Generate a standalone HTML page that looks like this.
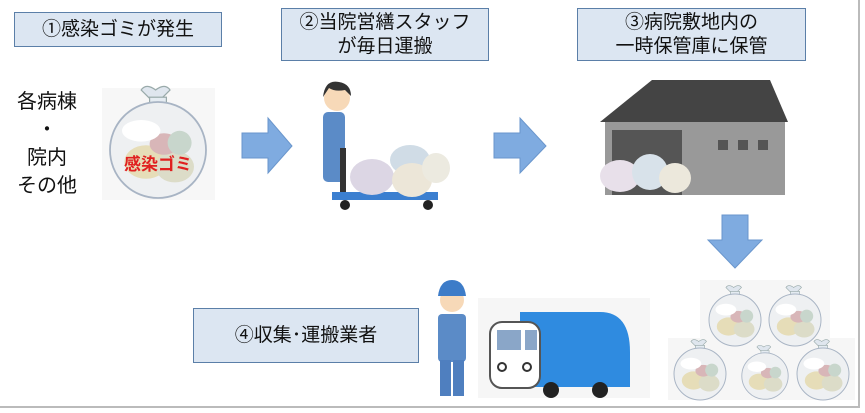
<!DOCTYPE html>
<html><head><meta charset="utf-8"><style>
body{margin:0;width:865px;height:413px;background:#fff;overflow:hidden;position:relative;font-family:"Liberation Sans","Noto Sans CJK JP",sans-serif}
.box{position:absolute;background:#dce6f2;border:1.5px solid #5b7fa8;color:#111;font-size:19px;text-align:center;line-height:24px;box-sizing:border-box;display:flex;align-items:center;justify-content:center}
</style></head><body>
<div style="position:absolute;left:0;top:0;width:860px;height:408px;border-right:2px solid #bbb;border-bottom:2px solid #bbb;box-sizing:border-box"></div>
<div class="box" style="left:14px;top:12px;width:208px;height:35px">①感染ゴミが発生</div>
<div class="box" style="left:281px;top:8px;width:208px;height:53px">②当院営繕スタッフ<br>が毎日運搬</div>
<div class="box" style="left:577px;top:8px;width:229px;height:53px">③病院敷地内の<br>一時保管庫に保管</div>
<div class="box" style="left:193px;top:308px;width:226px;height:55px">④収集･運搬業者</div>
<div style="position:absolute;left:12px;top:88px;width:70px;text-align:center;font-size:20px;line-height:28px;color:#111">各病棟<br>・<br>院内<br>その他</div>
<svg width="865" height="413" style="position:absolute;left:0;top:0">
<defs>
<g id="bag"><path d="M-6,-42 l-8,-8 q4,-6 12,0 q8,-6 12,0 l-8,8 z" fill="#dfe6ee" stroke="#9aa" stroke-width="1"/><rect x="-7" y="-44" width="14" height="6" fill="#e5ecf2" stroke="#9aa"/><ellipse cx="0" cy="0" rx="40" ry="40" fill="#eef0f2" stroke="#a8b4c4" stroke-width="1.5"/><ellipse cx="-10" cy="10" rx="18" ry="14" fill="#e6ddb8"/><ellipse cx="14" cy="14" rx="16" ry="13" fill="#dcdcc8"/><ellipse cx="5" cy="-5" rx="12" ry="9" fill="#d8b6b8"/><ellipse cx="-14" cy="-16" rx="16" ry="9" fill="#fff"/><ellipse cx="18" cy="-6" rx="10" ry="10" fill="#c8d6cc"/></g>
</defs>
<rect x="102" y="88" width="113" height="112" fill="#f7f7f7"/>
<g transform="translate(158,150) scale(1.2)"><use href="#bag"/></g>
<text x="158" y="170" font-size="17" fill="#e02020" text-anchor="middle" font-weight="bold" font-family="Liberation Sans,Noto Sans CJK JP,sans-serif">感染ゴミ</text>
<polygon points="242,133 268,133 268,118 292,146 268,173 268,158 242,158" fill="#7fabe0" stroke="#6a96cc"/>
<polygon points="494,133 520,133 520,118 546,146 520,173 520,158 494,158" fill="#7fabe0" stroke="#6a96cc"/>
<polygon points="722,215 748,215 748,240 762,240 735,268 708,240 722,240" fill="#7fabe0" stroke="#6a96cc"/>
<circle cx="337" cy="98" r="13" fill="#f7d9b8"/><path d="M323,97 q2,-18 16,-15 q12,2 12,14 l-6,-6 q-10,2 -16,-2 z" fill="#333"/>
<rect x="323" y="112" width="22" height="70" rx="5" fill="#5b8bc7"/>
<rect x="340" y="148" width="6" height="45" fill="#333"/>
<rect x="332" y="192" width="106" height="8" fill="#3b7fd0"/>
<circle cx="345" cy="205" r="5" fill="#222"/><circle cx="428" cy="205" r="5" fill="#222"/>
<ellipse cx="372" cy="177" rx="22" ry="18" fill="#dcd6e4"/><ellipse cx="410" cy="160" rx="20" ry="15" fill="#d0dce6"/><ellipse cx="412" cy="180" rx="20" ry="17" fill="#ece6d8"/><ellipse cx="436" cy="168" rx="14" ry="15" fill="#eceae0"/>
<polygon points="600,122 652,80 770,80 788,122" fill="#444"/>
<rect x="605" y="122" width="180" height="73" fill="#999"/>
<rect x="612" y="130" width="70" height="65" fill="#555"/>
<rect x="718" y="140" width="10" height="10" fill="#555"/><rect x="738" y="140" width="10" height="10" fill="#555"/><rect x="758" y="140" width="10" height="10" fill="#555"/>
<ellipse cx="620" cy="176" rx="20" ry="16" fill="#e8e0ea"/><ellipse cx="650" cy="172" rx="18" ry="18" fill="#d8e2ea"/><ellipse cx="675" cy="178" rx="16" ry="15" fill="#ece8dc"/>
<circle cx="452" cy="300" r="12" fill="#f7d9b8"/><path d="M438,296 q2,-16 14,-16 q12,0 14,16 z" fill="#3d7cc8"/>
<rect x="438" y="314" width="28" height="48" rx="4" fill="#5b8bc7"/>
<rect x="440" y="360" width="11" height="36" fill="#4f7fbf"/><rect x="453" y="360" width="11" height="36" fill="#4f7fbf"/>
<rect x="478" y="298" width="172" height="100" fill="#f6f6f6"/>
<path d="M520,312 h80 q30,0 30,40 v35 h-110 z" fill="#2f8be0"/>
<rect x="490" y="322" width="50" height="66" rx="12" fill="#fff" stroke="#555" stroke-width="2"/>
<rect x="497" y="330" width="24" height="20" fill="#8aa6c8"/><rect x="525" y="330" width="12" height="20" fill="#8aa6c8"/>
<circle cx="502" cy="367" r="4" fill="#fff" stroke="#333" stroke-width="2"/><circle cx="527" cy="367" r="4" fill="#fff" stroke="#333" stroke-width="2"/>
<circle cx="551" cy="390" r="8" fill="#222"/><circle cx="600" cy="390" r="8" fill="#222"/>
<rect x="700" y="280" width="130" height="60" fill="#f6f6f6"/>
<rect x="668" y="338" width="187" height="62" fill="#f6f6f6"/>
<g transform="translate(735,320) scale(0.65)"><use href="#bag"/></g>
<g transform="translate(795,320) scale(0.65)"><use href="#bag"/></g>
<g transform="translate(700,374) scale(0.65)"><use href="#bag"/></g>
<g transform="translate(765,376) scale(0.58)"><use href="#bag"/></g>
<g transform="translate(823,374) scale(0.65)"><use href="#bag"/></g>
</svg>
</body></html>
